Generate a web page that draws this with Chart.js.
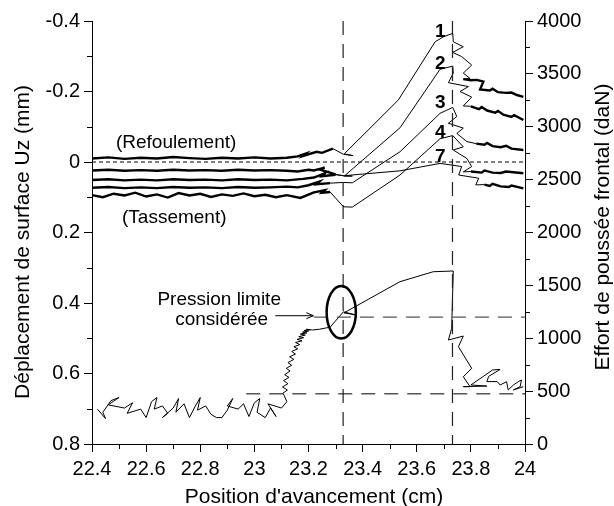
<!DOCTYPE html>
<html>
<head>
<meta charset="utf-8">
<script src="https://cdn.jsdelivr.net/npm/chart.js@4.4.1/dist/chart.umd.min.js"></script>
<style>
html, body { margin: 0; padding: 0; background: #fff; }
canvas { display: block; }
</style>
</head>
<body>
<canvas id="chart" width="614" height="506"></canvas>
<script>
// axes
const xLabels = [22.4, 22.6, 22.8, 23, 23.2, 23.4, 23.6, 23.8, 24];
const dispLabels = [-0.4, -0.2, 0, 0.2, 0.4, 0.6, 0.8];
const forceLabels = [0, 500, 1000, 1500, 2000, 2500, 3000, 3500, 4000];

// reference lines
const cutPositions = [23.328, 23.732];
const forceLevels = [475, 1200];
const forceLevelStarts = [22.97, 23.22];

// surface displacement (mm), [position cm, Uz mm] : flat part, rise, tail
const curve1Flat = [[22.40,-0.010],[22.46,-0.013],[22.52,-0.009],[22.58,-0.012],[22.64,-0.010],[22.70,-0.014],[22.76,-0.011],[22.82,-0.009],[22.88,-0.012],[22.94,-0.010],[23.00,-0.013],[23.06,-0.010],[23.12,-0.012],[23.16,-0.016],[23.19,-0.024],[23.18,-0.017],[23.23,-0.029],[23.25,-0.026],[23.29,-0.038]];
const curve1Rise = [[23.329,-0.022],[23.365,-0.018],[23.332,-0.023],[23.532,-0.176],[23.668,-0.341],[23.698,-0.355],[23.733,-0.365],[23.735,-0.341],[23.772,-0.327],[23.733,-0.311],[23.766,-0.299],[23.803,-0.275],[23.772,-0.252],[23.797,-0.237]];
const curve1Tail = [[23.772,-0.235],[23.80,-0.232],[23.822,-0.233],[23.846,-0.228],[23.834,-0.206],[23.87,-0.203],[23.88,-0.208],[23.90,-0.198],[23.93,-0.196],[23.95,-0.197],[23.97,-0.190],[23.994,-0.185]];

const curve2Flat = [[22.40,0.024],[22.46,0.022],[22.52,0.025],[22.58,0.023],[22.64,0.025],[22.70,0.022],[22.76,0.024],[22.82,0.023],[22.88,0.025],[22.94,0.022],[23.00,0.024],[23.06,0.023],[23.12,0.025],[23.16,0.027],[23.20,0.022],[23.22,0.024],[23.26,0.016],[23.24,0.021],[23.30,0.035]];
const curve2Rise = [[23.329,0.039],[23.362,0.040],[23.332,0.040],[23.538,-0.097],[23.686,-0.263],[23.733,-0.272],[23.735,-0.252],[23.717,-0.225],[23.791,-0.214],[23.760,-0.200],[23.803,-0.184],[23.772,-0.159]];
const curve2Tail = [[23.80,-0.158],[23.83,-0.150],[23.84,-0.156],[23.86,-0.146],[23.89,-0.140],[23.90,-0.145],[23.92,-0.134],[23.95,-0.128],[23.96,-0.133],[23.994,-0.119]];

const curve3Flat = [[22.40,0.073],[22.46,0.071],[22.52,0.074],[22.58,0.072],[22.64,0.074],[22.70,0.071],[22.76,0.073],[22.82,0.072],[22.88,0.074],[22.94,0.071],[23.00,0.073],[23.06,0.072],[23.12,0.070],[23.16,0.072],[23.20,0.066],[23.24,0.056],[23.23,0.063],[23.28,0.060]];
const curve3Rise = [[23.329,0.058],[23.362,0.059],[23.538,-0.029],[23.686,-0.138],[23.733,-0.155],[23.748,-0.129],[23.717,-0.110],[23.772,-0.096],[23.748,-0.081],[23.785,-0.058]];
const curve3Tail = [[23.82,-0.052],[23.85,-0.049],[23.86,-0.054],[23.88,-0.045],[23.91,-0.042],[23.93,-0.046],[23.95,-0.038],[23.994,-0.034]];

const curve4Flat = [[22.40,0.094],[22.44,0.100],[22.48,0.090],[22.52,0.095],[22.56,0.087],[22.60,0.098],[22.64,0.092],[22.68,0.101],[22.72,0.088],[22.76,0.095],[22.80,0.090],[22.84,0.099],[22.88,0.092],[22.92,0.096],[22.96,0.089],[23.00,0.097],[23.04,0.093],[23.08,0.100],[23.12,0.094],[23.17,0.102],[23.22,0.086],[23.26,0.080],[23.25,0.087],[23.28,0.085]];
const curve4Rise = [[23.329,0.127],[23.362,0.128],[23.538,0.037],[23.686,-0.066],[23.733,-0.075],[23.772,-0.043],[23.735,-0.034],[23.785,-0.010],[23.803,0.013],[23.772,0.028]];
const curve4Tail = [[23.80,0.027],[23.84,0.030],[23.85,0.024],[23.88,0.030],[23.91,0.031],[23.93,0.027],[23.994,0.032]];

const curve7Flat = [[22.40,0.051],[22.46,0.049],[22.52,0.052],[22.58,0.050],[22.64,0.052],[22.70,0.049],[22.76,0.051],[22.82,0.050],[22.88,0.052],[22.94,0.049],[23.00,0.051],[23.06,0.050],[23.12,0.052],[23.18,0.048],[23.22,0.044],[23.26,0.032],[23.25,0.040],[23.30,0.036]];
const curve7Rise = [[23.329,0.039],[23.538,0.025],[23.686,0.004],[23.733,0.009],[23.766,0.013],[23.755,0.037],[23.829,0.046],[23.818,0.065]];
const curve7Tail = [[23.85,0.064],[23.87,0.068],[23.88,0.062],[23.91,0.069],[23.94,0.071],[23.95,0.067],[23.994,0.075]];

// effort de poussée (daN)
const force = [
  [22.42,330],[22.45,240],[22.44,300],[22.47,410],[22.50,440],[22.46,370],[22.52,340],[22.55,390],[22.53,290],[22.58,330],
  [22.60,250],[22.62,400],[22.64,440],[22.63,330],[22.66,360],[22.68,290],[22.66,250],[22.70,340],[22.72,430],[22.71,300],
  [22.74,380],[22.76,250],[22.78,350],[22.80,440],[22.79,320],[22.82,360],[22.84,280],[22.86,250],[22.88,250],[22.90,320],
  [22.92,430],[22.90,360],[22.94,330],[22.96,380],[22.98,260],[23.00,390],[23.02,430],[23.01,300],[23.04,250],[23.06,340],
  [23.08,260],[23.05,380],[23.10,340],[23.12,400],[23.11,460],
  [23.105,480],[23.122,510],[23.104,540],[23.124,570],[23.108,600],[23.128,630],[23.112,655],[23.132,690],[23.118,715],[23.138,745],
  [23.124,770],[23.146,800],[23.130,825],[23.152,850],[23.138,875],[23.160,900],[23.146,920],[23.168,940],[23.152,960],[23.176,975],
  [23.158,990],[23.182,1005],[23.164,1015],[23.188,1030],[23.170,1040],[23.194,1050],[23.178,1058],[23.200,1068],[23.184,1074],[23.206,1080],
  [23.192,1085],[23.215,1078],[23.24,1085],[23.28,1105],[23.329,1250],[23.372,1222],[23.331,1240],
  [23.538,1535],[23.661,1629],[23.735,1636],[23.729,1094],[23.717,983],[23.772,1021],[23.754,920],[23.803,716],[23.772,636],[23.797,542],
  [23.772,542],[23.859,548],[23.80,558],[23.88,700],[23.908,705],[23.866,640],[23.859,590],[23.897,590],[23.908,558],[23.932,589],
  [23.938,511],[23.957,558],[23.975,589],[23.987,605],[23.982,542],[23.957,511],[23.994,542]
];

const FONT = "'Liberation Sans', Arial, sans-serif";

function pts(arr) {
  return arr.map(p => ({x: p[0], y: p[1]}));
}

function has(list, v) {
  return list.some(l => Math.abs(l - v) < 1e-6);
}

// courbe de déplacement : parties bruitées en trait épais
function makeCurve(flat, rise, tail) {
  const leftEnd = flat.length - 1;
  const tailStart = flat.length + rise.length;
  return {
    data: pts(flat.concat(rise, tail)),
    yAxisID: 'y',
    borderColor: '#000',
    borderWidth: 1,
    pointRadius: 0,
    tension: 0,
    segment: {
      borderWidth: c => (c.p1DataIndex <= leftEnd || c.p0DataIndex >= tailStart) ? 2.4 : 1
    }
  };
}

function refLine(arr, axis, dash, color, width) {
  return {
    data: pts(arr),
    yAxisID: axis,
    borderColor: color,
    borderWidth: width,
    borderDash: dash,
    pointRadius: 0,
    tension: 0
  };
}

const datasets = [
  refLine([[22.4, 0], [24, 0]], 'y', [4, 3], '#000', 1),
  refLine([[cutPositions[0], -0.4], [cutPositions[0], 0.8]], 'y', [14, 9], '#222', 1.2),
  refLine([[cutPositions[1], -0.4], [cutPositions[1], 0.8]], 'y', [14, 9], '#222', 1.2),
  refLine([[forceLevelStarts[0], forceLevels[0]], [24, forceLevels[0]]], 'y2', [14, 9], '#555', 1.3),
  refLine([[forceLevelStarts[1], forceLevels[1]], [24, forceLevels[1]]], 'y2', [14, 9], '#555', 1.3),
  makeCurve(curve1Flat, curve1Rise, curve1Tail),
  makeCurve(curve2Flat, curve2Rise, curve2Tail),
  makeCurve(curve7Flat, curve7Rise, curve7Tail),
  makeCurve(curve3Flat, curve3Rise, curve3Tail),
  makeCurve(curve4Flat, curve4Rise, curve4Tail),
  {
    data: pts(force),
    yAxisID: 'y2',
    borderColor: '#000',
    borderWidth: 1,
    pointRadius: 0,
    tension: 0
  }
];

function isMajor(id, v) {
  if (id === 'x') return has(xLabels, v);
  if (id === 'y') return has(dispLabels, v);
  return has(forceLabels, v);
}

function axisOpts(id, labels, step) {
  return {
    grid: {
      drawOnChartArea: false,
      tickLength: 8,
      tickColor: c => isMajor(id, c.tick.value) ? '#000' : 'rgba(0,0,0,0)'
    },
    border: { color: '#000', width: 1 },
    ticks: {
      stepSize: step,
      autoSkip: false,
      maxRotation: 0,
      color: '#000',
      font: { family: FONT, size: 20 },
      padding: id === 'x' ? 5 : 4,
      callback: v => has(labels, v) ? String(Math.round(v * 10) / 10) : ''
    }
  };
}

// petites graduations
const minorTicks = {
  id: 'minorTicks',
  afterDraw(chart) {
    const ctx = chart.ctx;
    ctx.save();
    ctx.strokeStyle = '#000';
    ctx.lineWidth = 1;
    ['x', 'y', 'y2'].forEach(id => {
      const s = chart.scales[id];
      s.ticks.forEach(t => {
        if (isMajor(id, t.value)) return;
        const p = Math.round(s.getPixelForValue(t.value)) + 0.5;
        ctx.beginPath();
        if (id === 'x') { ctx.moveTo(p, s.top); ctx.lineTo(p, s.top + 5); }
        else if (id === 'y') { ctx.moveTo(s.right, p); ctx.lineTo(s.right - 5, p); }
        else { ctx.moveTo(s.left, p); ctx.lineTo(s.left + 5, p); }
        ctx.stroke();
      });
    });
    ctx.restore();
  }
};

// textes, numéros de courbes, ellipse et flèche
const annotations = {
  id: 'annotations',
  afterDatasetsDraw(chart) {
    const {ctx, scales: {x, y, y2}} = chart;
    ctx.save();
    ctx.fillStyle = '#000';
    ctx.strokeStyle = '#000';
    ctx.textBaseline = 'alphabetic';
    ctx.textAlign = 'center';

    ctx.font = '19px ' + FONT;
    ctx.fillText('(Refoulement)', x.getPixelForValue(22.711), y.getPixelForValue(-0.041));
    ctx.fillText('(Tassement)', x.getPixelForValue(22.704), y.getPixelForValue(0.172));
    ctx.fillText('Pression limite', x.getPixelForValue(22.87), y2.getPixelForValue(1314));
    ctx.fillText('considérée', x.getPixelForValue(22.879), y2.getPixelForValue(1125));

    ctx.font = 'bold 19px ' + FONT;
    [['1', -0.355], ['2', -0.264], ['3', -0.152], ['4', -0.067], ['7', -0.001]].forEach(l => {
      ctx.fillText(l[0], x.getPixelForValue(23.687), y.getPixelForValue(l[1]));
    });

    // flèche
    const ay = y2.getPixelForValue(1213);
    const ax0 = x.getPixelForValue(23.077);
    const ax1 = x.getPixelForValue(23.218);
    ctx.lineWidth = 1;
    ctx.beginPath();
    ctx.moveTo(ax0, ay);
    ctx.lineTo(ax1, ay);
    ctx.moveTo(ax1 - 7, ay - 3);
    ctx.lineTo(ax1, ay);
    ctx.lineTo(ax1 - 7, ay + 3);
    ctx.stroke();

    // ellipse
    const cx = x.getPixelForValue(23.321);
    const cy = y2.getPixelForValue(1246);
    const rx = x.getPixelForValue(23.375) - cx;
    const ry = cy - y2.getPixelForValue(1494);
    ctx.lineWidth = 2.5;
    ctx.beginPath();
    ctx.ellipse(cx, cy, rx, ry, 0, 0, Math.PI * 2);
    ctx.stroke();

    // titres des axes
    ctx.font = '21px ' + FONT;
    ctx.fillText("Position d'avancement (cm)", 314, 503);
    ctx.textBaseline = 'middle';
    ctx.translate(23, 242);
    ctx.rotate(-Math.PI / 2);
    ctx.fillText('Déplacement de surface Uz (mm)', 0, 0);
    ctx.setTransform(1, 0, 0, 1, 0, 0);
    ctx.translate(603, 227);
    ctx.rotate(-Math.PI / 2);
    ctx.fillText('Effort de poussée frontal (daN)', 0, 0);
    ctx.restore();
  }
};

new Chart(document.getElementById('chart'), {
  type: 'line',
  data: { datasets: datasets },
  options: {
    responsive: false,
    animation: false,
    devicePixelRatio: 1,
    layout: { padding: { top: 21, left: 0, right: 0, bottom: 0 } },
    plugins: { legend: { display: false }, tooltip: { enabled: false } },
    scales: {
      x: Object.assign(axisOpts('x', xLabels, 0.1), {
        type: 'linear', min: 22.4, max: 24,
        afterFit: s => { s.height = 62; }
      }),
      y: Object.assign(axisOpts('y', dispLabels, 0.1), {
        type: 'linear', position: 'left', reverse: true, min: -0.4, max: 0.8,
        afterFit: s => { s.width = 92; }
      }),
      y2: Object.assign(axisOpts('y2', forceLabels, 250), {
        type: 'linear', position: 'right', min: 0, max: 4000,
        afterFit: s => { s.width = 89; }
      })
    }
  },
  plugins: [minorTicks, annotations]
});
</script>
</body>
</html>
